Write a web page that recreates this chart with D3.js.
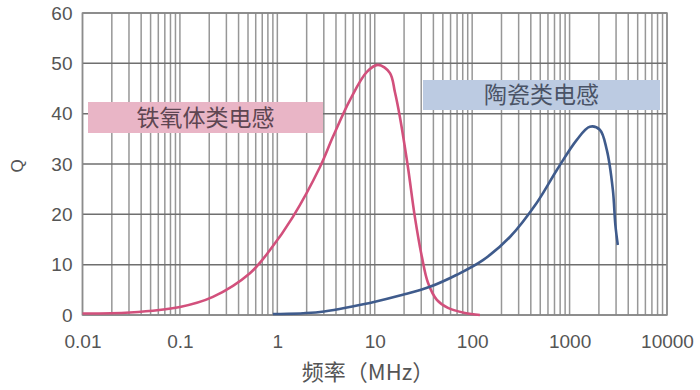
<!DOCTYPE html>
<html><head><meta charset="utf-8">
<script src="https://cdn.jsdelivr.net/npm/d3@7"></script>
<style>body{margin:0;background:#fff}svg{display:block}</style>
</head><body>
<svg id="c" width="700" height="390"></svg>
<script>
const xTicks = [0.01, 0.1, 1, 10, 100, 1000, 10000];
const xTickLabels = ["0.01", "0.1", "1", "10", "100", "1000", "10000"];
const yTicks = [0, 10, 20, 30, 40, 50, 60];
const ferriteFreq = [0.01, 0.0307, 0.1, 0.218, 0.523, 0.84, 1.445, 2.74, 3.72, 5.56, 8.3, 10.8, 14.3, 16.1, 18.1, 21.9, 25.8, 30.5, 35.2, 43.4, 56.4, 84.1, 120];
const ferriteQ =    [0.3, 0.5, 1.6, 3.6, 8.3, 12.9, 19.5, 29.4, 35.4, 42.7, 48.3, 49.7, 48.1, 44.3, 39.4, 29.4, 19.5, 11.5, 6.4, 3.0, 1.4, 0.4, 0.0];
const ceramicFreq = [0.9, 2.74, 8.9, 19.4, 36.8, 69.6, 129, 244, 461, 740, 1186, 1614, 2044, 2410, 2780, 2950, 3126];
const ceramicQ =    [0.2, 0.6, 2.4, 4.0, 5.6, 8.0, 10.9, 15.5, 22.3, 28.8, 34.8, 37.4, 36.8, 32.8, 24.9, 17.9, 13.9];
const seriesNames = ["铁氧体类电感", "陶瓷类电感"];
const xTitle = "频率（MHz）";
const yTitle = "Q";

const svg = d3.select("#c");
const L = 82.5, R = 667, T = 13, B = 315;
const x = d3.scaleLog().domain([0.01, 10000]).range([L, R]);
const y = d3.scaleLinear().domain([0, 60]).range([B, T]);

const minor = [];
for (let e = -2; e < 4; e++) for (let k = 1; k <= 9; k++) minor.push(k * Math.pow(10, e));
minor.push(10000);

const grid = svg.append("g");
grid.selectAll("line.v").data(minor).join("line")
  .attr("x1", d => x(d)).attr("x2", d => x(d)).attr("y1", T).attr("y2", B)
  .attr("stroke", "#979797").attr("stroke-width", 1.5);
grid.selectAll("line.h").data(yTicks).join("line")
  .attr("x1", L).attr("x2", R).attr("y1", d => y(d)).attr("y2", d => y(d))
  .attr("stroke", "#6f6f6f").attr("stroke-width", 1.5);
svg.append("rect").attr("x", L).attr("y", T).attr("width", R - L).attr("height", B - T)
  .attr("fill", "none").attr("stroke", "#8c8c8c").attr("stroke-width", 1.5);

const fontLat = "Liberation Sans, Arial, sans-serif";
const xAxis = d3.axisBottom(x).tickValues(xTicks).tickFormat((d, i) => xTickLabels[i]).tickSize(0).tickPadding(20);
const gx = svg.append("g").attr("transform", `translate(0,${B})`).call(xAxis);
gx.select(".domain").remove();
gx.selectAll("text").attr("font-family", fontLat).attr("font-size", 19).attr("fill", "#555");

const yAxis = d3.axisLeft(y).tickValues(yTicks).tickSize(0).tickPadding(10);
const gy = svg.append("g").attr("transform", `translate(${L},0)`).call(yAxis);
gy.select(".domain").remove();
gy.selectAll("text").attr("font-family", fontLat).attr("font-size", 19).attr("fill", "#555");

svg.append("text").attr("x", 368).attr("y", 380).attr("text-anchor", "middle")
  .attr("font-family", "Noto Sans CJK SC, sans-serif").attr("font-size", 22).attr("fill", "#555").text(xTitle);
svg.append("text").attr("transform", "translate(23,166) rotate(-90)").attr("text-anchor", "middle")
  .attr("font-family", fontLat).attr("font-size", 17).attr("fill", "#555").text(yTitle);

const boxes = [
  {x0: 88, x1: 323, y0: 102, y1: 133, fill: "#e9b5c6", text: seriesNames[0], color: "#5e4652"},
  {x0: 423, x1: 660, y0: 80, y1: 110, fill: "#bccbe2", text: seriesNames[1], color: "#4a5366"}
];
boxes.forEach(b => {
  svg.append("rect").attr("x", b.x0).attr("y", b.y0).attr("width", b.x1 - b.x0).attr("height", b.y1 - b.y0).attr("fill", b.fill);
  svg.append("text").attr("x", (b.x0 + b.x1) / 2).attr("y", (b.y0 + b.y1) / 2 + 8).attr("text-anchor", "middle")
    .attr("font-family", "Noto Sans CJK SC, sans-serif").attr("font-size", 23).attr("fill", b.color).text(b.text);
});

const line = d3.line().x(d => x(d[0])).y(d => y(d[1])).curve(d3.curveCatmullRom.alpha(0.5));
svg.append("path").datum(ferriteFreq.map((f, i) => [f, ferriteQ[i]]))
  .attr("d", line).attr("fill", "none").attr("stroke", "#d2507c").attr("stroke-width", 2.6);
svg.append("path").datum(ceramicFreq.map((f, i) => [f, ceramicQ[i]]))
  .attr("d", line).attr("fill", "none").attr("stroke", "#3f5b8c").attr("stroke-width", 2.6);
</script>
</body></html>
